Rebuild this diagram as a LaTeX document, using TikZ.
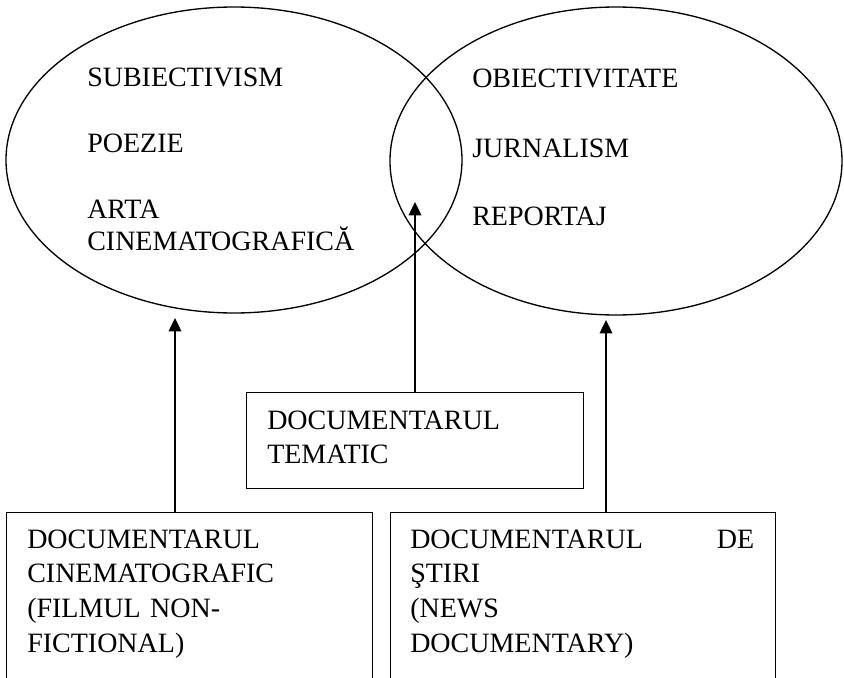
\documentclass[tikz,border=0pt]{standalone}
\usepackage{fontspec}
\setmainfont{Liberation Serif}
\usetikzlibrary{shapes.geometric,arrows.meta}
\begin{document}
\begin{tikzpicture}[x=0.75pt,y=-0.75pt,
  oval/.style={draw,ellipse,inner sep=0pt,line width=1pt},
  boxn/.style={draw,rectangle,anchor=north west,inner sep=0pt,line width=1pt},
  txt/.style={inner sep=0pt,anchor=base west,align=left,font=\fontsize{21}{26}\selectfont},
  arr/.style={line width=1pt,-{Triangle[length=10pt,width=9.5pt]}}]
\useasboundingbox (0,0) rectangle (844,678);
% ellipses
\node[oval,minimum width=342pt,minimum height=229.5pt] (le) at (234,160) {};
\node[oval,minimum width=339pt,minimum height=231pt] (re) at (616,161) {};
% ellipse texts
\node[txt] (l1) at (87,86) {SUBIECTIVISM};
\node[txt] (l2) at (87,152) {POEZIE};
\node[txt,text width=230pt,font=\fontsize{21}{24}\selectfont] (l3) at (87,218) {ARTA\\CINEMATOGRAFICĂ};
\node[txt] (r1) at (472,87) {OBIECTIVITATE};
\node[txt] (r2) at (472,157) {JURNALISM};
\node[txt] (r3) at (472,225) {REPORTAJ};
% boxes
\node[boxn,minimum width=252.75pt,minimum height=72pt] (mbox) at (246,392) {};
\node[boxn,minimum width=274.5pt,minimum height=150pt] (lbox) at (6,512) {};
\node[boxn,minimum width=288.75pt,minimum height=150pt] (rbox) at (390,512) {};
% box texts
\node[txt,text width=220pt] (mt) at (267,429) {DOCUMENTARUL\\TEMATIC};
\node[txt,text width=250pt] (lt) at (27,548) {DOCUMENTARUL\\CINEMATOGRAFIC\\(FILMUL NON-\\FICTIONAL)};
\node[txt,text width=258pt] (rt) at (410,548) {DOCUMENTARUL\hfill DE\\ŞTIRI\\(NEWS\\DOCUMENTARY)};
% arrows
\coordinate (a1) at (175,318);
\coordinate (a2) at (415,202);
\coordinate (a3) at (606,320);
\draw[arr] (lbox.north -| a1) -- (a1);
\draw[arr] (mbox.north -| a2) -- (a2);
\draw[arr] (rbox.north -| a3) -- (a3);
\end{tikzpicture}
\end{document}
